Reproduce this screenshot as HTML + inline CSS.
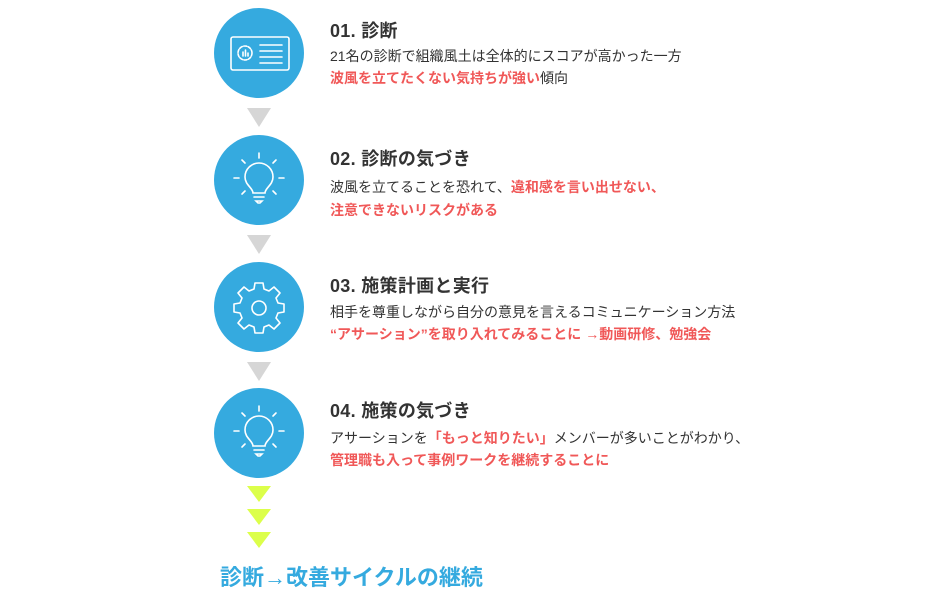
<!DOCTYPE html>
<html><head><meta charset="utf-8"><style>
html,body{margin:0;padding:0;background:#fff;}
body{width:945px;height:600px;position:relative;overflow:hidden;font-family:"Liberation Sans","Noto Sans CJK JP",sans-serif;color:#333;}
.t{position:absolute;left:330px;font-size:18px;font-weight:bold;color:#333;white-space:nowrap;letter-spacing:0.3px}
.l{position:absolute;left:330px;font-size:14px;white-space:nowrap;color:#333}
.r{color:#f05858;font-weight:bold}
svg{position:absolute;left:0;top:0}
</style></head><body>
<svg width="945" height="600" viewBox="0 0 945 600">
<g fill="#35aadf">
<circle cx="259" cy="53" r="45"/><circle cx="259" cy="180" r="45"/><circle cx="259" cy="307" r="45"/><circle cx="259" cy="433" r="45"/>
</g>
<g fill="#d6d6d6">
<polygon points="247,108 271,108 259,127"/><polygon points="247,235 271,235 259,254"/><polygon points="247,362 271,362 259,381"/>
</g>
<g fill="#dcff4a">
<polygon points="247,486 271,486 259,502"/><polygon points="247,509 271,509 259,525"/><polygon points="247,532 271,532 259,548"/>
</g>
<g fill="none" stroke="#fff" stroke-width="1.6" stroke-linecap="round">
<rect x="231" y="37" width="58" height="33" rx="2"/>
<circle cx="245" cy="53" r="7" stroke-dasharray="3 1.5"/>
<line x1="243" y1="56" x2="243" y2="52"/><line x1="245.5" y1="56" x2="245.5" y2="50"/><line x1="248" y1="56" x2="248" y2="53"/>
<line x1="260" y1="45" x2="282" y2="45"/><line x1="260" y1="51" x2="282" y2="51"/><line x1="260" y1="57" x2="282" y2="57"/><line x1="260" y1="63" x2="282" y2="63"/>
<g>
<path d="M253,193 C253,188 245,185 245,177 A14,14 0 0 1 273,177 C273,185 265,188 265,193 Z"/>
<line x1="254" y1="197" x2="264" y2="197"/><path d="M256,201 L262,201 L260,203 L258,203 Z"/>
<line x1="259" y1="153" x2="259" y2="158"/><line x1="242" y1="160" x2="245" y2="163"/><line x1="276" y1="160" x2="273" y2="163"/>
<line x1="234" y1="178" x2="239" y2="178"/><line x1="284" y1="178" x2="279" y2="178"/>
<line x1="242" y1="194" x2="245" y2="191"/><line x1="276" y1="194" x2="273" y2="191"/>
</g>
<g transform="translate(0,253)">
<path d="M253,193 C253,188 245,185 245,177 A14,14 0 0 1 273,177 C273,185 265,188 265,193 Z"/>
<line x1="254" y1="197" x2="264" y2="197"/><path d="M256,201 L262,201 L260,203 L258,203 Z"/>
<line x1="259" y1="153" x2="259" y2="158"/><line x1="242" y1="160" x2="245" y2="163"/><line x1="276" y1="160" x2="273" y2="163"/>
<line x1="234" y1="178" x2="239" y2="178"/><line x1="284" y1="178" x2="279" y2="178"/>
<line x1="242" y1="194" x2="245" y2="191"/><line x1="276" y1="194" x2="273" y2="191"/>
</g>
<path d="M255,283 L263,283 L264,289 L269,291 L274,287 L280,293 L276,298 L278,303 L284,304 L284,312 L278,313 L276,318 L280,323 L274,329 L269,325 L264,327 L263,333 L255,333 L254,327 L249,325 L244,329 L238,323 L242,318 L240,313 L234,312 L234,304 L240,303 L242,298 L238,293 L244,287 L249,291 L254,289 Z" stroke-linejoin="round"/>
<circle cx="259" cy="308" r="7"/>
</g>
</svg>
<div class="t" style="top:17px">01. 診断</div>
<div class="l" style="top:46px">21名の診断で組織風土は全体的にスコアが高かった一方</div>
<div class="l" style="top:68px"><span class="r">波風を立てたくない気持ちが強い</span>傾向</div>
<div class="t" style="top:145px">02. 診断の気づき</div>
<div class="l" style="top:177px">波風を立てることを恐れて、<span class="r">違和感を言い出せない、</span></div>
<div class="l" style="top:200px"><span class="r">注意できないリスクがある</span></div>
<div class="t" style="top:272px">03. 施策計画と実行</div>
<div class="l" style="top:302px">相手を尊重しながら自分の意見を言えるコミュニケーション方法</div>
<div class="l" style="top:324px"><span class="r">“アサーション”を取り入れてみることに →動画研修、勉強会</span></div>
<div class="t" style="top:397px">04. 施策の気づき</div>
<div class="l" style="top:428px">アサーションを<span class="r">「もっと知りたい」</span>メンバーが多いことがわかり、</div>
<div class="l" style="top:450px"><span class="r">管理職も入って事例ワークを継続することに</span></div>
<div style="position:absolute;left:220px;top:560px;font-size:22px;font-weight:bold;color:#35aadf;white-space:nowrap">診断→改善サイクルの継続</div>
</body></html>
